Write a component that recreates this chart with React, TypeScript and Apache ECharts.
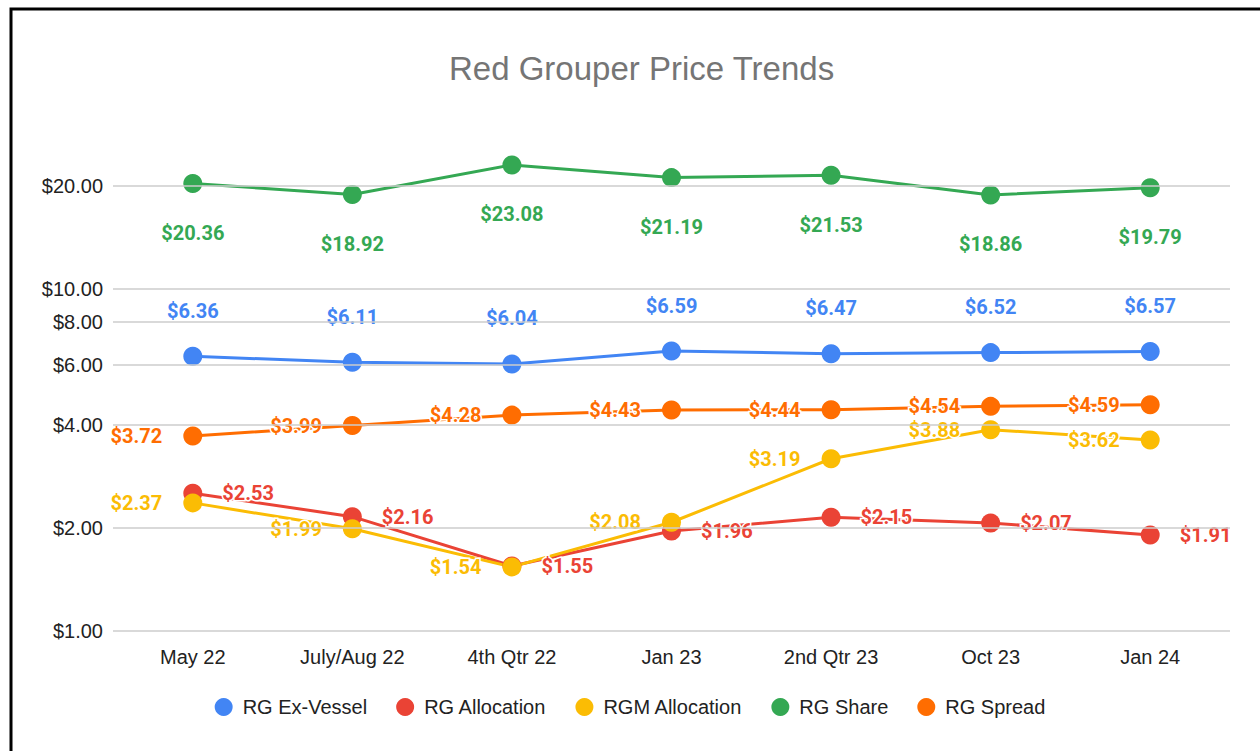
import React, { useEffect, useRef } from "react";
import * as echarts from "echarts";

const categories = ["May 22", "July/Aug 22", "4th Qtr 22", "Jan 23", "2nd Qtr 23", "Oct 23", "Jan 24"];
const exVessel = [6.36, 6.11, 6.04, 6.59, 6.47, 6.52, 6.57];
const rgAllocation = [2.53, 2.16, 1.55, 1.96, 2.15, 2.07, 1.91];
const rgmAllocation = [2.37, 1.99, 1.54, 2.08, 3.19, 3.88, 3.62];
const rgShare = [20.36, 18.92, 23.08, 21.19, 21.53, 18.86, 19.79];
const rgSpread = [3.72, 3.99, 4.28, 4.43, 4.44, 4.54, 4.59];
const yTicks = [1, 2, 4, 6, 8, 10, 20];

const FONT = "Roboto";
const SANS = "'Liberation Sans', Arial, sans-serif";
const money = (v: number) => "$" + v.toFixed(2);

function lineSeries(name: string, data: number[], color: string, position: string, distance: number) {
  return {
    name,
    type: "line",
    data,
    symbol: "circle",
    symbolSize: 19,
    lineStyle: { color, width: 3 },
    itemStyle: { color },
    z: 3,
    label: {
      show: true,
      position,
      distance,
      formatter: (p: any) => money(p.value),
      color,
      fontFamily: FONT,
      fontWeight: "bold",
      fontSize: 20,
      textBorderColor: "#fff",
      textBorderWidth: 3,
    },
  };
}

export default function App() {
  const ref = useRef<HTMLDivElement>(null);
  useEffect(() => {
    document.body.style.margin = "0";
    const chart = echarts.init(ref.current!, undefined, { renderer: "svg" });
    chart.setOption({
      animation: false,
      backgroundColor: "#fff",
      textStyle: { fontFamily: SANS },
      title: {
        text: "Red Grouper Price Trends",
        left: 444,
        top: 47,
        textStyle: { fontFamily: SANS, fontSize: 33, fontWeight: "normal", color: "#757575" },
      },
      legend: {
        data: ["RG Ex-Vessel", "RG Allocation", "RGM Allocation", "RG Share", "RG Spread"],
        top: 692,
        left: "center",
        icon: "circle",
        itemWidth: 18,
        itemHeight: 18,
        itemGap: 29,
        textStyle: { fontFamily: SANS, fontSize: 20, color: "#222", padding: [0, 0, 0, 5] },
      },
      grid: { left: 113, right: 30, top: 130, bottom: 120, containLabel: false },
      xAxis: {
        type: "category",
        data: categories,
        boundaryGap: true,
        axisLine: { show: false },
        axisTick: { show: false },
        axisLabel: { fontFamily: SANS, fontSize: 20, color: "#222", margin: 16 },
      },
      yAxis: {
        type: "log",
        logBase: 2,
        min: 1,
        max: 29.2,
        axisLine: { show: false },
        axisTick: { show: false },
        axisLabel: { show: false },
        splitLine: { show: false },
      },
      graphic: [
        {
          type: "rect",
          shape: { x: 11, y: 9, width: 1400, height: 900 },
          style: { fill: "none", stroke: "#000", lineWidth: 3 },
          silent: true,
        },
      ],
      series: [
        {
          name: "_grid",
          type: "line",
          data: [],
          z: 1,
          silent: true,
          markLine: {
            silent: true,
            symbol: "none",
            animation: false,
            lineStyle: { color: "#cccccc", type: "solid", width: 1.5 },
            label: {
              show: true,
              position: "start",
              distance: 10,
              formatter: (p: any) => money(p.value),
              fontFamily: SANS,
              fontSize: 20,
              color: "#222",
            },
            data: yTicks.map((v) => ({ yAxis: v })),
          },
        },
        lineSeries("RG Ex-Vessel", exVessel, "#4285F4", "top", 26),
        lineSeries("RG Allocation", rgAllocation, "#EA4335", "right", 20),
        lineSeries("RGM Allocation", rgmAllocation, "#FBBC04", "left", 21),
        lineSeries("RG Share", rgShare, "#34A853", "bottom", 30),
        lineSeries("RG Spread", rgSpread, "#FF6D01", "left", 21),
      ],
    });
    return () => chart.dispose();
  }, []);
  return <div ref={ref} style={{ width: 1260, height: 751 }} />;
}
